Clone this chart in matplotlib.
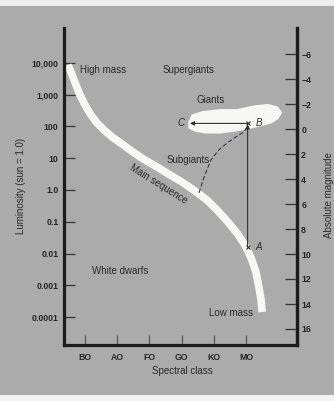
import matplotlib
matplotlib.use("Agg")
import matplotlib.pyplot as plt
from matplotlib.patches import Polygon, Rectangle
import numpy as np

plt.rcParams['font.family'] = ['Liberation Sans', 'DejaVu Sans']

# Spectral classes along the bottom axis
spectral_classes = ["BO", "AO", "FO", "GO", "KO", "MO"]
class_pos = [0, 1, 2, 3, 4, 5]

# Luminosity ticks (sun = 1.0)
lum_ticks = [10000, 1000, 100, 10, 1.0, 0.1, 0.01, 0.001, 0.0001]
lum_labels = ["10,000", "1,000", "100", "10", "1.0", "0.1", "0.01", "0.001", "0.0001"]

# Absolute magnitude ticks
mag_ticks = [-6, -4, -2, 0, 2, 4, 6, 8, 10, 12, 14, 16]

# Main sequence track: spectral position, luminosity
ms_x = [-0.53, -0.40, -0.28, -0.155, 0.0, 0.186, 0.373, 0.59, 0.84, 1.15,
        1.49, 1.86, 2.24, 2.64, 3.01, 3.42, 3.79, 4.13, 4.44, 4.72,
        4.97, 5.16, 5.31, 5.40, 5.47, 5.50]
ms_lum = [8650, 4190, 2030, 982, 475, 230, 129, 77.6, 46.7, 28.1,
          15.7, 8.8, 5.3, 2.97, 1.79, 0.93, 0.48, 0.218, 0.098, 0.044,
          0.0185, 0.0072, 0.0026, 0.00088, 0.00034, 0.000144]

# Giant branch region outline
giants_x = [3.26, 3.35, 3.66, 4.19, 4.72, 5.28, 5.68, 5.96, 6.06, 5.96,
            5.75, 5.12, 4.66, 4.19, 3.73, 3.42, 3.26]
giants_lum = [129, 214, 270, 310, 310, 410, 450, 380, 270, 186,
              138, 95, 78, 68, 68, 78, 95]

# Evolution path of a star: A (main sequence) -> B (giant) -> C
star_x = 5.05
lum_A = 0.016
lum_B = 125
x_C = 3.26

# Subgiant track (dashed) from the main sequence up to B
sub_x = [3.54, 3.70, 3.91, 4.15, 4.41, 4.70, 4.94, 5.03]
sub_lum = [0.81, 2.6, 8.8, 18, 30, 48, 68, 95]

bg = "#ababab"
ink = "#262626"
white = "#f7f7f5"

fig = plt.figure(figsize=(3.34, 4.01), dpi=100, facecolor=bg)
fig.patches.append(Rectangle((0, 1 - 6 / 401), 1, 6 / 401, transform=fig.transFigure,
                             facecolor="#eeeeee", edgecolor="none", zorder=0))
fig.patches.append(Rectangle((0, 0), 1, 6 / 401, transform=fig.transFigure,
                             facecolor="#f2f2f2", edgecolor="none", zorder=0))

ax = fig.add_axes([64 / 334, 1 - 345 / 401, (297 - 64) / 334, (345 - 28) / 401])
ax.set_facecolor(bg)
ax.set_yscale("log")
ax.set_xlim(-0.652, 6.584)
ax.set_ylim(10 ** -4.88, 10 ** 5.10)

for side in ["left", "bottom", "right"]:
    ax.spines[side].set_linewidth(2.3)
    ax.spines[side].set_color("#1c1c1c")
ax.spines["top"].set_visible(False)

ax.set_xticks(class_pos)
ax.set_xticklabels(spectral_classes, fontsize=6.3, fontweight="bold", color=ink)
ax.set_yticks(lum_ticks)
ax.set_yticklabels(lum_labels, fontsize=6.3, fontweight="bold", color=ink)
ax.minorticks_off()
ax.tick_params(axis="y", direction="in", length=8, width=0.9, color="#333333", pad=4)
ax.tick_params(axis="x", direction="in", length=7, width=0.9, color="#555555", pad=6)

# Magnitude scale on the right
ax2 = ax.twinx()
ax2.set_ylim(17.28, -8.08)
ax2.set_yticks(mag_ticks)
ax2.set_yticklabels([f"{m:d}".replace("-", "\u2212") for m in mag_ticks],
                    fontsize=6.3, fontweight="bold", color=ink)
ax2.tick_params(axis="y", direction="in", length=9, width=0.9, color="#333333", pad=3)
for side in ["left", "bottom", "top"]:
    ax2.spines[side].set_visible(False)
ax2.spines["right"].set_linewidth(2.3)
ax2.spines["right"].set_color("#1c1c1c")

# Main sequence band
ax.plot(ms_x, ms_lum, color=white, lw=5.5, solid_capstyle="butt",
        solid_joinstyle="round", zorder=2)

# Giants region
ax.add_patch(Polygon(np.column_stack([giants_x, giants_lum]), closed=True,
                     facecolor=white, edgecolor=white, lw=2.5, joinstyle="round",
                     zorder=2))

# Subgiant track
ax.plot(sub_x, sub_lum, color="#3a3a3a", lw=0.8, dashes=(4, 2), zorder=3)

# A -> B and B -> C
ax.annotate("", xy=(star_x, lum_B * 0.93), xytext=(star_x, lum_A),
            arrowprops=dict(arrowstyle="-|>", color="#303030", lw=0.8,
                            mutation_scale=6, shrinkA=0, shrinkB=0), zorder=3)
ax.annotate("", xy=(x_C, lum_B), xytext=(star_x, lum_B),
            arrowprops=dict(arrowstyle="-|>", color="#303030", lw=0.8,
                            mutation_scale=6, shrinkA=0, shrinkB=0), zorder=3)
ax.plot([star_x, star_x], [lum_A, lum_B], ls="none", marker="x", ms=3.5,
        mew=0.8, color="#303030", zorder=4)

txt = dict(fontsize=7, color="#2a2a2a", zorder=5)
ax.text(5.28, lum_A, "A", ha="left", va="center", style="italic", **txt)
ax.text(5.30, lum_B, "B", ha="left", va="center", style="italic", **txt)
ax.text(3.10, lum_B, "C", ha="right", va="center", style="italic", **txt)

ax.text(-0.155, 6000, "High mass", ha="left", va="center", **txt)
ax.text(2.42, 6000, "Supergiants", ha="left", va="center", **txt)
ax.text(3.45, 670, "Giants", ha="left", va="center", **txt)
ax.text(2.52, 8.8, "Subgiants", ha="left", va="center", **txt)
ax.text(2.27, 1.55, "Main sequence", ha="center", va="center", rotation=-32,
        rotation_mode="anchor", **txt)
ax.text(0.22, 0.0028, "White dwarfs", ha="left", va="center", **txt)
ax.text(3.85, 0.000135, "Low mass", ha="left", va="center", **txt)

fig.text(21 / 334, 1 - 186 / 401, "Luminosity (sun = 1.0)", rotation=90,
         ha="center", va="center", fontsize=7, color="#2a2a2a")
fig.text(329 / 334, 1 - 195 / 401, "Absolute magnitude", rotation=90,
         ha="center", va="center", fontsize=7, color="#2a2a2a")
fig.text(182 / 334, 1 - 371 / 401, "Spectral class", ha="center", va="center",
         fontsize=7, color="#2a2a2a")

fig.savefig("out.png", dpi=100, facecolor=bg)
